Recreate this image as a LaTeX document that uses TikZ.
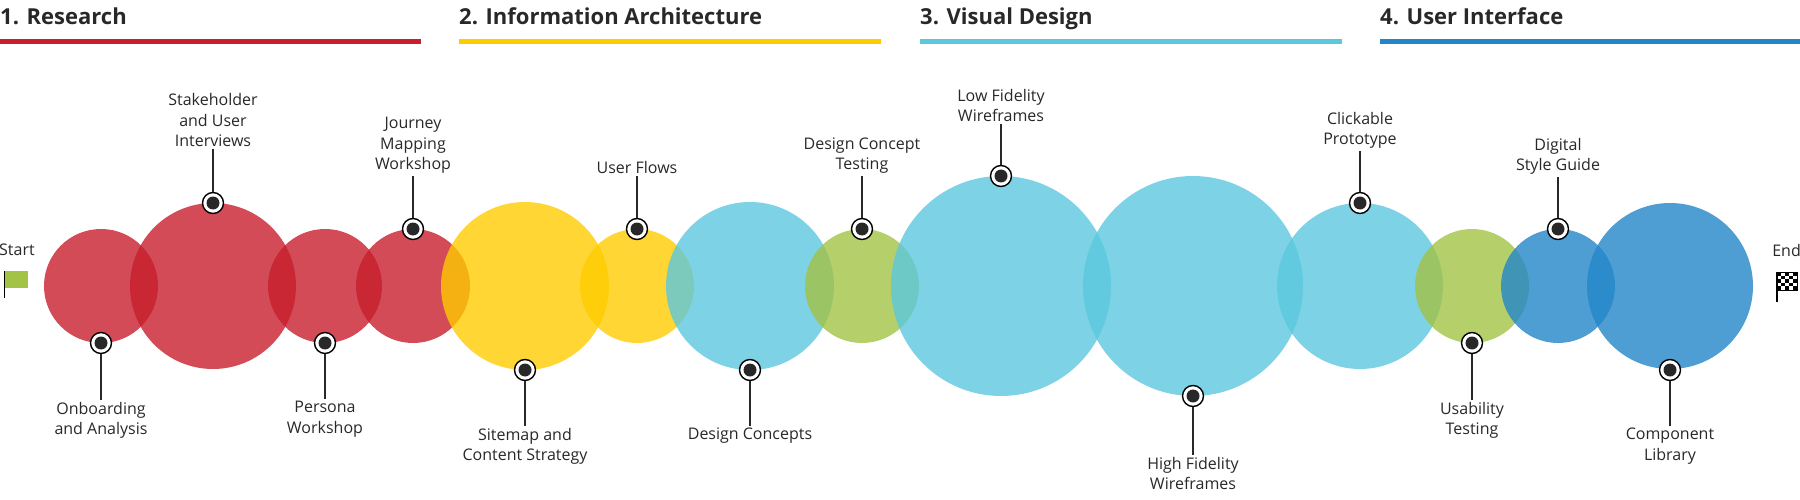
\documentclass[tikz,border=0pt]{standalone}
\usepackage{fontspec}
\setmainfont{Open Sans}
\begin{document}
\definecolor{cRed}{RGB}{200,30,45}
\definecolor{cYel}{RGB}{255,204,0}
\definecolor{cLBl}{RGB}{92,200,222}
\definecolor{cGrn}{RGB}{163,195,70}
\definecolor{cDBl}{RGB}{35,134,200}
\definecolor{cTxt}{RGB}{40,40,40}
\begin{tikzpicture}[x=1pt,y=-1pt,
  bub/.style={circle,fill=#1,fill opacity=0.8,draw=none,inner sep=0pt},
  mk/.style={circle,draw=black,line width=1.4pt,fill=white,minimum size=21pt,inner sep=0pt,
    path picture={\fill[cTxt] (path picture bounding box.center) circle (6.5pt);}},
  lbl/.style={align=center,font=\fontsize{16}{20.5}\selectfont,text=cTxt,inner sep=2pt},
  head/.style={anchor=base west,font=\fontsize{22}{26}\selectfont\bfseries,text=cTxt,inner sep=0pt},
  con/.style={draw=cTxt,line width=1.2pt},
  bar/.style={line width=5pt}]
\useasboundingbox (0,0) rectangle (1800,500);
% headings
\node[head] (h1) at (0,25) {1. Research};
\node[head] (h2) at (459,25) {2. Information Architecture};
\node[head] (h3) at (920,25) {3. Visual Design};
\node[head] (h4) at (1380,25) {4. User Interface};
\draw[bar,cRed] (0,41.5) -- (421,41.5);
\draw[bar,cYel] (459,41.5) -- (881,41.5);
\draw[bar,cLBl] (920,41.5) -- (1342,41.5);
\draw[bar,cDBl] (1380,41.5) -- (1800,41.5);
% bubbles
\node[bub=cRed,minimum size=114pt] (b1) at (101,286) {};
\node[bub=cRed,minimum size=166pt] (b2) at (213,286) {};
\node[bub=cRed,minimum size=114pt] (b3) at (325,286) {};
\node[bub=cRed,minimum size=114pt] (b4) at (413,286) {};
\node[bub=cYel,minimum size=168pt] (b5) at (525,286) {};
\node[bub=cYel,minimum size=114pt] (b6) at (637,286) {};
\node[bub=cLBl,minimum size=168pt] (b7) at (750,286) {};
\node[bub=cGrn,minimum size=114pt] (b8) at (862,286) {};
\node[bub=cLBl,minimum size=220pt] (b9) at (1001,286) {};
\node[bub=cLBl,minimum size=220pt] (b10) at (1193,286) {};
\node[bub=cLBl,minimum size=166pt] (b11) at (1360,286) {};
\node[bub=cGrn,minimum size=114pt] (b12) at (1472,286) {};
\node[bub=cDBl,minimum size=114pt] (b13) at (1558,286) {};
\node[bub=cDBl,minimum size=166pt] (b14) at (1670,286) {};
% markers
\node[mk] (m1) at (101,343) {};
\node[mk] (m2) at (213,203) {};
\node[mk] (m3) at (325,343) {};
\node[mk] (m4) at (413,229) {};
\node[mk] (m5) at (525,370) {};
\node[mk] (m6) at (637,229) {};
\node[mk] (m7) at (750,370) {};
\node[mk] (m8) at (862,229) {};
\node[mk] (m9) at (1001,176) {};
\node[mk] (m10) at (1193,396) {};
\node[mk] (m11) at (1360,203) {};
\node[mk] (m12) at (1472,343) {};
\node[mk] (m13) at (1558,229) {};
\node[mk] (m14) at (1670,370) {};
% labels
\node[lbl,anchor=north] (l1) at (101,400) {Onboarding\\and Analysis};
\node[lbl,anchor=south] (l2) at (213,149) {Stakeholder\\and User\\Interviews};
\node[lbl,anchor=north] (l3) at (325,399) {Persona\\Workshop};
\node[lbl,anchor=south] (l4) at (413,176) {Journey\\Mapping\\Workshop};
\node[lbl,anchor=north] (l5) at (525,426) {Sitemap and\\Content Strategy};
\node[lbl,anchor=south] (l6) at (637,176) {User Flows};
\node[lbl,anchor=north] (l7) at (750,426) {Design Concepts};
\node[lbl,anchor=south] (l8) at (862,176) {Design Concept\\Testing};
\node[lbl,anchor=south] (l9) at (1001,124) {Low Fidelity\\Wireframes};
\node[lbl,anchor=north] (l10) at (1193,455) {High Fidelity\\Wireframes};
\node[lbl,anchor=south] (l11) at (1360,151) {Clickable\\Prototype};
\node[lbl,anchor=north] (l12) at (1472,400) {Usability\\Testing};
\node[lbl,anchor=south] (l13) at (1558,177) {Digital\\Style Guide};
\node[lbl,anchor=north] (l14) at (1670,426) {Component\\Library};
\foreach \i in {1,...,14} {\draw[con] (m\i) -- (l\i);}
% start / end
\node[lbl,anchor=west,inner sep=0pt] (st) at (-1,250) {Start};
\node[lbl,anchor=east,inner sep=0pt] (en) at (1801,250) {End};
\fill[cGrn] (4,271) rectangle (28,288);
\draw[black,line width=1.3pt] (4.5,271) -- (4.5,298);
\fill[white] (1777,272) rectangle (1797,290);
\foreach \r in {0,...,4} {\foreach \c in {0,...,4} {
  \pgfmathtruncatemacro{\p}{mod(\r+\c,2)}
  \ifnum\p=0 \fill[black] (1777+4*\c,272+3.6*\r) rectangle ++(4,3.6);\fi}}
\draw[black,line width=0.6pt] (1777,272) rectangle (1797,290);
\draw[black,line width=1.3pt] (1777,272) -- (1777,302);
\end{tikzpicture}
\end{document}
